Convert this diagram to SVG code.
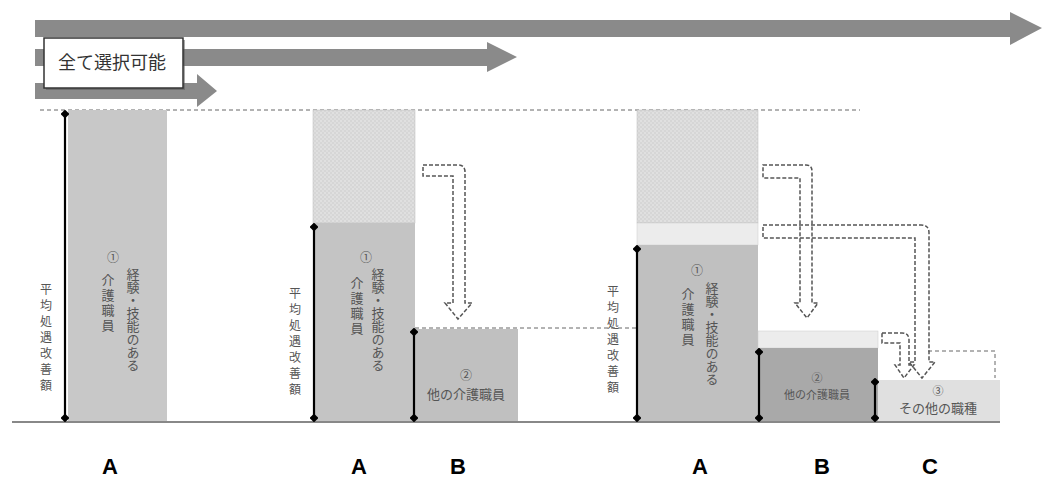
<svg xmlns="http://www.w3.org/2000/svg" width="1042" height="488" viewBox="0 0 1042 488">
<style>
.jp{font-family:"Noto Sans CJK JP","Noto Sans CJK SC",sans-serif;fill:#555}
.vt{writing-mode:vertical-rl;text-orientation:upright}
.lbl{font-family:"Liberation Sans",Arial,sans-serif;font-weight:bold;font-size:22px;fill:#000;text-anchor:middle}
.bigarrow{fill:#8a8a8a}
.dash{fill:none;stroke:#555;stroke-width:1.5;stroke-dasharray:4 2}
.guide{fill:none;stroke:#666;stroke-width:1;stroke-dasharray:4 3}
.dbl{stroke:#000;stroke-width:2.2;marker-start:url(#dot);marker-end:url(#dot)}
</style>
<defs>
<pattern id="hatch" width="4" height="4" patternUnits="userSpaceOnUse">
<rect width="4" height="4" fill="#d6d6d6"/>
<circle cx="1" cy="1" r="0.7" fill="#f2f2f2"/>
<circle cx="3" cy="3" r="0.7" fill="#eeeeee"/>
</pattern>
<marker id="dot" viewBox="0 0 10 10" refX="5" refY="5" markerWidth="4" markerHeight="4" orient="auto">
<path d="M0,5 L5,0 L10,5 L5,10 Z" fill="#000"/>
</marker>
</defs>
<rect width="1042" height="488" fill="#fff"/>

<g id="top-arrows">
<path class="bigarrow" d="M35,20 H1010 V12 L1042,28 L1010,45 V37 H35 Z"/>
<path class="bigarrow" d="M35,49 H487 V42 L517,57 L487,72 V66 H35 Z"/>
<path class="bigarrow" d="M35,83 H197 V74 L217,91 L197,107 V99 H35 Z"/>
</g>
<g id="label-all">
<rect x="46" y="40" width="139" height="50" fill="#555" opacity="0.5"/>
<rect x="44" y="38" width="139" height="50" fill="#fff" stroke="#333" stroke-width="1.5"/>
<text class="jp" x="112" y="69" font-size="18" text-anchor="middle" fill="#333" style="fill:#333">全て選択可能</text>
</g>

<g id="guides">
<line class="guide" x1="40" y1="110" x2="860" y2="110"/>
<line class="guide" x1="415" y1="328" x2="640" y2="328"/>
<path class="guide" d="M928,351 H995 V378"/>
</g>

<g id="bar1">
<rect x="68" y="110" width="99" height="312" fill="#c8c8c8"/>
<text class="jp" x="113" y="262" font-size="12" text-anchor="middle">①</text>
<text class="jp vt" x="133" y="268" font-size="13">経験・技能のある</text>
<text class="jp vt" x="108" y="274" font-size="13" letter-spacing="2">介護職員</text>
</g>
<g id="bar2">
<rect x="313" y="110" width="102" height="113" fill="url(#hatch)" stroke="#bbb" stroke-width="0.5"/>
<rect x="313" y="223" width="102" height="199" fill="#c4c4c4"/>
<text class="jp" x="366" y="262" font-size="12" text-anchor="middle">①</text>
<text class="jp vt" x="378" y="268" font-size="13">経験・技能のある</text>
<text class="jp vt" x="357" y="277" font-size="13" letter-spacing="2">介護職員</text>
</g>
<g id="bar2b">
<rect x="415" y="329" width="103" height="93" fill="#c0c0c0"/>
<text class="jp" x="466" y="380" font-size="12" text-anchor="middle">②</text>
<text class="jp" x="466" y="399" font-size="13" text-anchor="middle">他の介護職員</text>
</g>
<g id="bar3">
<rect x="637" y="110" width="121" height="113" fill="url(#hatch)" stroke="#bbb" stroke-width="0.5"/>
<rect x="637" y="223" width="121" height="22" fill="#ececec" stroke="#ccc" stroke-width="0.5"/>
<rect x="637" y="245" width="121" height="177" fill="#c0c0c0"/>
<text class="jp" x="697" y="275" font-size="12" text-anchor="middle">①</text>
<text class="jp vt" x="712" y="282" font-size="13">経験・技能のある</text>
<text class="jp vt" x="688" y="288" font-size="13" letter-spacing="2">介護職員</text>
</g>
<g id="bar3b">
<rect x="758" y="331" width="120" height="17" fill="#ececec" stroke="#ccc" stroke-width="0.5"/>
<rect x="758" y="348" width="120" height="74" fill="#a9a9a9"/>
<text class="jp" x="817" y="382" font-size="11" text-anchor="middle">②</text>
<text class="jp" x="817" y="399" font-size="11" text-anchor="middle">他の介護職員</text>
</g>
<g id="bar3c">
<rect x="878" y="380" width="122" height="42" fill="#e0e0e0"/>
<text class="jp" x="938" y="395" font-size="11" text-anchor="middle">③</text>
<text class="jp" x="938" y="413" font-size="13" text-anchor="middle">その他の職種</text>
</g>

<g id="avg-labels">
<text class="jp vt" x="46" y="283" font-size="12" letter-spacing="4">平均処遇改善額</text>
<text class="jp vt" x="295" y="287" font-size="12" letter-spacing="4">平均処遇改善額</text>
<text class="jp vt" x="613" y="285" font-size="12" letter-spacing="4">平均処遇改善額</text>
</g>

<line x1="12" y1="422" x2="1000" y2="422" stroke="#888" stroke-width="2"/>

<g id="connectors">
<line class="dbl" x1="65" y1="114" x2="65" y2="418"/>
<line class="dbl" x1="314" y1="227" x2="314" y2="418"/>
<line class="dbl" x1="414" y1="332" x2="414" y2="418"/>
<line class="dbl" x1="637" y1="249" x2="637" y2="418"/>
<line class="dbl" x1="759" y1="352" x2="759" y2="418"/>
<line class="dbl" x1="875" y1="382" x2="875" y2="418"/>
<path class="dash" d="M423,165 H458 Q465,165 465,172 V303 H472 L458,319 L445,303 H453 V176 H423 Z"/>
<path class="dash" d="M763,165 H806 Q812,165 812,171 V303 H818 L807,318 L795,303 H800 V178 H763 Z"/>
<path class="dash" d="M763,225 H921 Q929,225 929,233 V362 H935 L922,378 L909,362 H915 V238 H763 Z"/>
<path class="dash" d="M882,333 H902 Q909,333 909,340 V365 H914 L904,378 L895,365 H900 V343 H882 Z"/>
</g>

<g id="letters">
<text class="lbl" x="110" y="474">A</text>
<text class="lbl" x="359" y="474">A</text>
<text class="lbl" x="458" y="474">B</text>
<text class="lbl" x="700" y="474">A</text>
<text class="lbl" x="822" y="474">B</text>
<text class="lbl" x="930" y="474">C</text>
</g>
</svg>
